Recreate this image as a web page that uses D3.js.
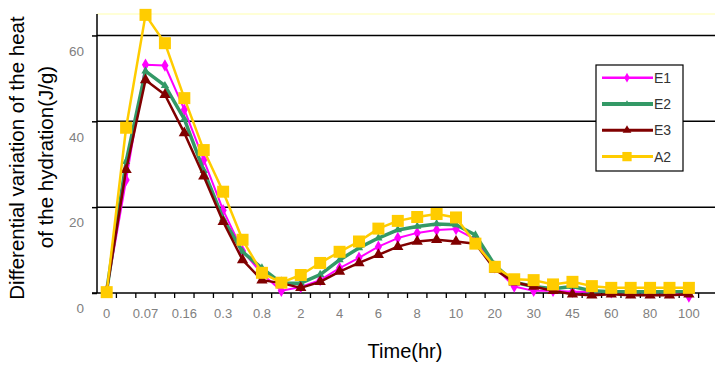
<!DOCTYPE html>
<html>
<head>
<meta charset="utf-8">
<script src="https://cdn.jsdelivr.net/npm/d3@7"></script>
<style>
  body { margin: 0; background: #ffffff; }
  text { font-family: "Liberation Sans", Arial, sans-serif; }
</style>
</head>
<body>
<div id="chart"></div>
<script>
// time labels (only every other category is labelled on the axis)
var timeLabels = ["0", "", "0.07", "", "0.16", "", "0.3", "", "0.8", "", "2", "", "4", "", "6", "", "8", "", "10", "",
                  "20", "", "30", "", "45", "", "60", "", "80", "", "100"];

var e1 = [0.5, 26.3, 53.2, 53.0, 42.7, 31.0, 19.3, 9.8, 4.5, 0.5, 1.4, 3.0, 5.8, 8.2, 10.8, 12.8, 14.0, 14.7, 14.9, 12.5,
          6.0, 1.5, 0.5, 0.5, 0.3, 0.3, 0.2, 0.2, 0.2, 0.2, -0.8];
var e2 = [0.5, 30.6, 51.7, 48.3, 40.5, 28.5, 17.3, 9.6, 5.8, 2.3, 2.3, 4.3, 7.7, 10.5, 12.8, 14.7, 15.5, 16.1, 15.9, 13.5,
          6.5, 2.5, 1.5, 1.0, 1.5, 0.5, 0.3, 0.3, 0.3, 0.3, 0.3];
var e3 = [0.5, 28.7, 49.6, 46.2, 37.3, 27.2, 16.6, 7.7, 3.0, 2.3, 1.2, 2.6, 5.0, 7.0, 8.9, 10.8, 12.0, 12.4, 12.0, 11.5,
          5.5, 2.5, 1.5, 0.5, -0.3, -0.5, -0.3, -0.5, -0.5, -0.5, -0.3];
var a2 = [0.2, 38.5, 64.8, 58.2, 45.4, 33.3, 23.6, 12.4, 4.7, 2.4, 4.2, 7.0, 9.6, 12.0, 15.0, 16.8, 17.7, 18.4, 17.6, 11.5,
          6.1, 3.2, 3.0, 2.0, 2.6, 1.6, 1.2, 1.2, 1.2, 1.2, 1.2];

var yTicks = [0, 20, 40, 60];

var series = [
    {name: "E1", values: e1, color: "#ff00ff", width: 2,   symbol: d3.symbolDiamond,  size: 45},
    {name: "E2", values: e2, color: "#339966", width: 3.5, symbol: d3.symbolTriangle, size: 30},
    {name: "E3", values: e3, color: "#800000", width: 2.5, symbol: d3.symbolTriangle, size: 55},
    {name: "A2", values: a2, color: "#ffcc00", width: 2.5, symbol: d3.symbolSquare,   size: 144}
];

var width = 715, height = 365;
var plot = {left: 97, top: 14, bottom: 293, right: 718};

var svg = d3.select("#chart").append("svg")
    .attr("width", width)
    .attr("height", height);

svg.append("rect").attr("width", width).attr("height", height).attr("fill", "#ffffff");

// one extra empty band so the axis runs off the right edge like the original
var x = d3.scaleBand()
    .domain(d3.range(timeLabels.length + 1))
    .range([plot.left, plot.right]);

var y = d3.scaleLinear()
    .domain([0, 65])
    .range([plot.bottom, plot.top]);

var cx = function(i) { return x(i) + x.bandwidth() / 2; };

// plot area top border (pale yellow)
svg.append("line")
    .attr("x1", plot.left).attr("x2", width)
    .attr("y1", y(65)).attr("y2", y(65))
    .attr("stroke", "#ffffc8").attr("stroke-width", 1.5);

// gridlines
svg.selectAll(".grid")
    .data(yTicks.slice(1))
    .enter().append("line")
    .attr("class", "grid")
    .attr("x1", plot.left).attr("x2", width)
    .attr("y1", function(d) { return y(d); })
    .attr("y2", function(d) { return y(d); })
    .attr("stroke", "#000").attr("stroke-width", 1.5);

// y axis
var yAxis = svg.append("g")
    .attr("transform", "translate(" + plot.left + ",0)")
    .call(d3.axisLeft(y).tickValues(yTicks).tickSize(5).tickFormat(""));
yAxis.select(".domain").attr("stroke", "#000").attr("stroke-width", 1.5)
    .attr("d", "M0," + y(65) + "V" + y(0));
yAxis.selectAll(".tick line").attr("stroke", "#000").attr("stroke-width", 1.5);

// y tick labels sit below their lines, as in the original
svg.selectAll(".ylab")
    .data(yTicks)
    .enter().append("text")
    .attr("class", "ylab")
    .attr("x", 84)
    .attr("y", function(d) { return y(d) + 15.5; })
    .attr("dy", "0.35em")
    .attr("text-anchor", "end")
    .attr("font-size", "13.5px")
    .attr("fill", "#808080")
    .text(function(d) { return d; });

// x axis: ticks on band edges, labels at band centres
var xAxis = svg.append("g")
    .attr("transform", "translate(0," + plot.bottom + ")");
xAxis.append("line")
    .attr("x1", plot.left - 5).attr("x2", width)
    .attr("stroke", "#000").attr("stroke-width", 1.5);
xAxis.selectAll(".xtick")
    .data(d3.range(1, timeLabels.length + 1))
    .enter().append("line")
    .attr("class", "xtick")
    .attr("x1", function(i) { return x(i); })
    .attr("x2", function(i) { return x(i); })
    .attr("y1", 0).attr("y2", 5)
    .attr("stroke", "#000").attr("stroke-width", 1.3);
xAxis.selectAll(".xlab")
    .data(d3.range(timeLabels.length))
    .enter().append("text")
    .attr("class", "xlab")
    .attr("x", cx)
    .attr("y", 20)
    .attr("dy", "0.35em")
    .attr("text-anchor", "middle")
    .attr("font-size", "13px")
    .attr("fill", "#808080")
    .text(function(i) { return timeLabels[i]; });

// series lines + markers
var line = d3.line()
    .x(function(d, i) { return cx(i); })
    .y(function(d) { return y(d); });

series.forEach(function(s) {
    svg.append("path")
        .datum(s.values)
        .attr("d", line)
        .attr("fill", "none")
        .attr("stroke", s.color)
        .attr("stroke-width", s.width)
        .attr("stroke-linejoin", "round");
    svg.selectAll(".m-" + s.name)
        .data(s.values)
        .enter().append("path")
        .attr("class", "m-" + s.name)
        .attr("transform", function(d, i) { return "translate(" + cx(i) + "," + y(d) + ")"; })
        .attr("d", d3.symbol().type(s.symbol).size(s.size))
        .attr("fill", s.color);
});

// legend
var legend = svg.append("g").attr("transform", "translate(596,65)");
legend.append("rect")
    .attr("width", 87).attr("height", 106)
    .attr("fill", "#fff").attr("stroke", "#000").attr("stroke-width", 1.2);
var item = legend.selectAll(".item")
    .data(series)
    .enter().append("g")
    .attr("class", "item")
    .attr("transform", function(d, i) { return "translate(0," + (12.7 + i * 26.3) + ")"; });
item.append("line")
    .attr("x1", 6).attr("x2", 57)
    .attr("stroke", function(d) { return d.color; })
    .attr("stroke-width", function(d) { return d.width + 0.5; });
item.append("path")
    .attr("transform", "translate(31,0)")
    .attr("d", function(d) { return d3.symbol().type(d.symbol).size(d.size * 0.6)(); })
    .attr("fill", function(d) { return d.color; });
item.append("text")
    .attr("x", 58).attr("dy", "0.35em")
    .attr("font-size", "14px")
    .attr("fill", "#333")
    .text(function(d) { return d.name; });

// axis titles
svg.append("text")
    .attr("transform", "translate(17,158) rotate(-90)")
    .attr("dy", "0.35em")
    .attr("text-anchor", "middle")
    .attr("font-size", "20.5px")
    .attr("fill", "#000")
    .text("Differential variation of the heat");
svg.append("text")
    .attr("transform", "translate(46,157) rotate(-90)")
    .attr("dy", "0.35em")
    .attr("text-anchor", "middle")
    .attr("font-size", "20.5px")
    .attr("fill", "#000")
    .text("of the hydration(J/g)");
svg.append("text")
    .attr("x", 405).attr("y", 358)
    .attr("text-anchor", "middle")
    .attr("font-size", "20px")
    .attr("fill", "#000")
    .text("Time(hr)");
</script>
</body>
</html>
